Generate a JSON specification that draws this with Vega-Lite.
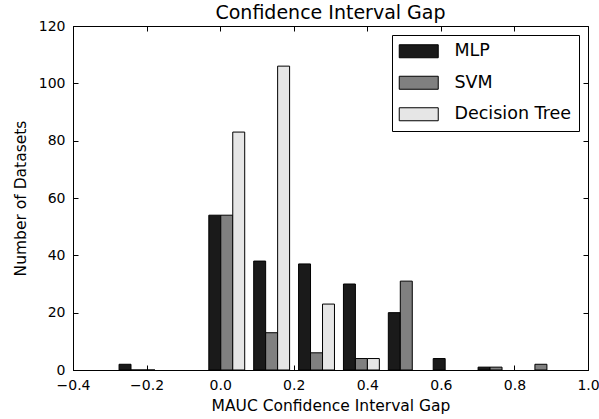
{
  "$schema": "https://vega.github.io/schema/vega-lite/v6.json",
  "width": 515,
  "height": 344,
  "autosize": {"type": "none"},
  "padding": {"left": 73, "top": 26, "right": 11, "bottom": 49},
  "background": "white",
  "title": {
    "text": "Confidence Interval Gap",
    "font": "DejaVu Sans",
    "fontSize": 19,
    "fontWeight": "normal",
    "color": "black",
    "offset": -3.5
  },
  "config": {
    "font": "DejaVu Sans",
    "view": {"stroke": "black", "strokeWidth": 1},
    "axis": {
      "grid": false,
      "domainColor": "black",
      "domainWidth": 1,
      "tickColor": "black",
      "tickSize": -5,
      "labelFontSize": 14,
      "labelColor": "black",
      "labelFont": "DejaVu Sans",
      "titleFontSize": 15.5,
      "titleFontWeight": "normal",
      "titleColor": "black",
      "titleFont": "DejaVu Sans"
    }
  },
  "data": {
    "values": [
      {"method": "MLP", "gap_lo": -0.2748, "gap_hi": -0.2423, "count": 2},
      {"method": "SVM", "gap_lo": -0.2423, "gap_hi": -0.2097, "count": 0},
      {"method": "Decision Tree", "gap_lo": -0.2097, "gap_hi": -0.1772, "count": 0},
      {"method": "MLP", "gap_lo": -0.0308, "gap_hi": 0.0017, "count": 54},
      {"method": "SVM", "gap_lo": 0.0017, "gap_hi": 0.0343, "count": 54},
      {"method": "Decision Tree", "gap_lo": 0.0343, "gap_hi": 0.0668, "count": 83},
      {"method": "MLP", "gap_lo": 0.0912, "gap_hi": 0.1237, "count": 38},
      {"method": "SVM", "gap_lo": 0.1237, "gap_hi": 0.1563, "count": 13},
      {"method": "Decision Tree", "gap_lo": 0.1563, "gap_hi": 0.1888, "count": 106},
      {"method": "MLP", "gap_lo": 0.2132, "gap_hi": 0.2457, "count": 37},
      {"method": "SVM", "gap_lo": 0.2457, "gap_hi": 0.2783, "count": 6},
      {"method": "Decision Tree", "gap_lo": 0.2783, "gap_hi": 0.3108, "count": 23},
      {"method": "MLP", "gap_lo": 0.3352, "gap_hi": 0.3677, "count": 30},
      {"method": "SVM", "gap_lo": 0.3677, "gap_hi": 0.4003, "count": 4},
      {"method": "Decision Tree", "gap_lo": 0.4003, "gap_hi": 0.4328, "count": 4},
      {"method": "MLP", "gap_lo": 0.4572, "gap_hi": 0.4897, "count": 20},
      {"method": "SVM", "gap_lo": 0.4897, "gap_hi": 0.5223, "count": 31},
      {"method": "MLP", "gap_lo": 0.5792, "gap_hi": 0.6117, "count": 4},
      {"method": "MLP", "gap_lo": 0.7012, "gap_hi": 0.7337, "count": 1},
      {"method": "SVM", "gap_lo": 0.7337, "gap_hi": 0.7663, "count": 1},
      {"method": "SVM", "gap_lo": 0.8557, "gap_hi": 0.8883, "count": 2}
    ]
  },
  "layer": [
    {
      "mark": {"type": "bar", "stroke": "black", "strokeWidth": 1, "opacity": 1},
      "encoding": {
        "x": {
          "field": "gap_lo",
          "type": "quantitative",
          "scale": {"domain": [-0.4, 1.0], "nice": false, "zero": false},
          "axis": {
            "title": "MAUC Confidence Interval Gap",
            "values": [-0.4, -0.2, 0.0, 0.2, 0.4, 0.6, 0.8, 1.0],
            "format": ".1f",
            "labelPadding": 13,
            "titlePadding": 6,
            "labelFlush": false,
            "labelOverlap": false
          }
        },
        "x2": {"field": "gap_hi"},
        "y": {
          "field": "count",
          "type": "quantitative",
          "scale": {"domain": [0, 120], "nice": false},
          "axis": {
            "title": "Number of Datasets",
            "values": [0, 20, 40, 60, 80, 100, 120],
            "labelPadding": 13,
            "titlePadding": 10,
            "labelFlush": false,
            "labelOverlap": false
          }
        },
        "y2": {"datum": 0},
        "fill": {
          "field": "method",
          "type": "nominal",
          "scale": {
            "domain": ["MLP", "SVM", "Decision Tree"],
            "range": ["#1a1a1a", "#808080", "#e6e6e6"]
          },
          "legend": {
            "title": null,
            "orient": "none",
            "legendX": 319,
            "legendY": 9,
            "padding": 7.5,
            "strokeColor": "black",
            "fillColor": "white",
            "cornerRadius": 0,
            "symbolType": "M-1.385,-1H4.615V1H-1.385Z",
            "symbolSize": 169,
            "symbolStrokeColor": "black",
            "symbolStrokeWidth": 1,
            "symbolOpacity": 1,
            "labelFontSize": 17.5,
            "labelFont": "DejaVu Sans",
            "labelColor": "black",
            "labelOffset": 37.5,
            "rowPadding": 12.5
          }
        }
      }
    },
    {
      "mark": {"type": "bar", "opacity": 0},
      "encoding": {
        "x": {
          "field": "gap_lo",
          "type": "quantitative",
          "axis": {"orient": "top", "title": null, "labels": false, "domain": false, "values": [-0.4, -0.2, 0.0, 0.2, 0.4, 0.6, 0.8, 1.0]}
        },
        "x2": {"field": "gap_hi"},
        "y": {
          "field": "count",
          "type": "quantitative",
          "axis": {"orient": "right", "title": null, "labels": false, "domain": false, "values": [0, 20, 40, 60, 80, 100, 120]}
        },
        "y2": {"datum": 0}
      }
    }
  ],
  "resolve": {"axis": {"x": "independent", "y": "independent"}}
}
